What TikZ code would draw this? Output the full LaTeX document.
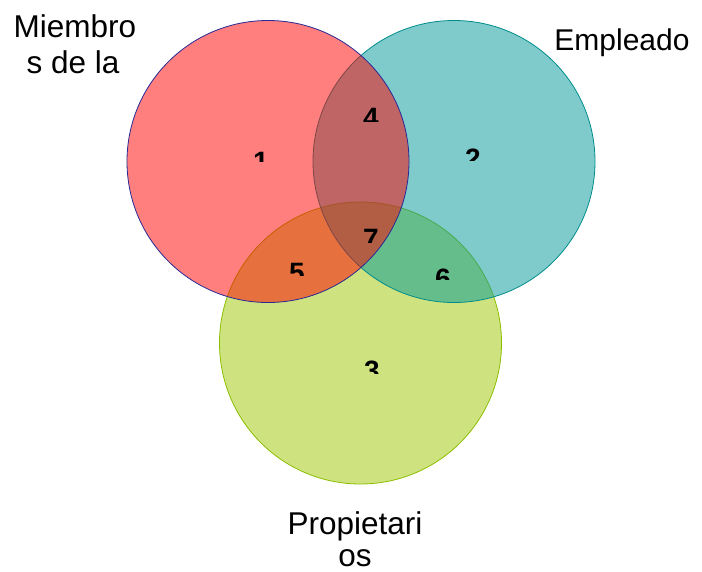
\documentclass[tikz,border=0pt]{standalone}
\usepackage{fontspec}
\setmainfont{Liberation Sans}
\definecolor{setred}{RGB}{255,0,0}
\definecolor{setteal}{RGB}{0,153,153}
\definecolor{setgreen}{RGB}{158,200,0}
\definecolor{edgered}{RGB}{40,40,150}
\definecolor{edgeteal}{RGB}{0,140,140}
\definecolor{edgegreen}{RGB}{140,190,0}
\begin{document}
\begin{tikzpicture}[x=1pt,y=-1pt,
  setcircle/.style={circle, minimum size=282pt, inner sep=0pt, fill opacity=0.5, line width=0.8pt},
  setlabel/.style={font=\fontsize{31.5}{36}\selectfont, inner sep=0pt, anchor=base},
  region/.style={font=\fontsize{28}{28}\selectfont\bfseries, inner sep=0pt, anchor=base}]
\useasboundingbox (0,0) rectangle (702,571);
\fill[white] (0,0) rectangle (702,571);

% the three sets, drawn bottom to top
\node[setcircle, fill=setgreen, draw=edgegreen] (owners) at (360.5,343) {};
\node[setcircle, fill=setteal, draw=edgeteal] (staff) at (454,161.5) {};
\node[setcircle, fill=setred, draw=edgered] (members) at (268,161.5) {};

% set names
\node[setlabel] (mA) at (75,37) {Miembro};
\node[setlabel] (mB) at (73,73) {s de la};
\node[setlabel, font=\fontsize{30}{36}\selectfont] (emp) at (622,50) {Empleado};
\node[setlabel] (pA) at (355,534) {Propietari};
\node[setlabel] (pB) at (355,566) {os};

% region numbers, only their upper part shows
\begin{scope}\clip (240,140) rectangle (285,161);
\node[region] (r1) at (261,171) {1};\end{scope}
\begin{scope}\clip (450,138) rectangle (500,160);
\node[region] (r2) at (473,168) {2};\end{scope}
\begin{scope}\clip (350,96) rectangle (395,121);
\node[region] (r4) at (371,127) {4};\end{scope}
\begin{scope}\clip (350,218) rectangle (395,242);
\node[region] (r7) at (371,248) {7};\end{scope}
\begin{scope}\clip (275,252) rectangle (320,275);
\node[region] (r5) at (297,282) {5};\end{scope}
\begin{scope}\clip (420,258) rectangle (465,279);
\node[region] (r6) at (443,288) {6};\end{scope}
\begin{scope}\clip (350,350) rectangle (395,373);
\node[region] (r3) at (372,380) {3};\end{scope}
\end{tikzpicture}
\end{document}
